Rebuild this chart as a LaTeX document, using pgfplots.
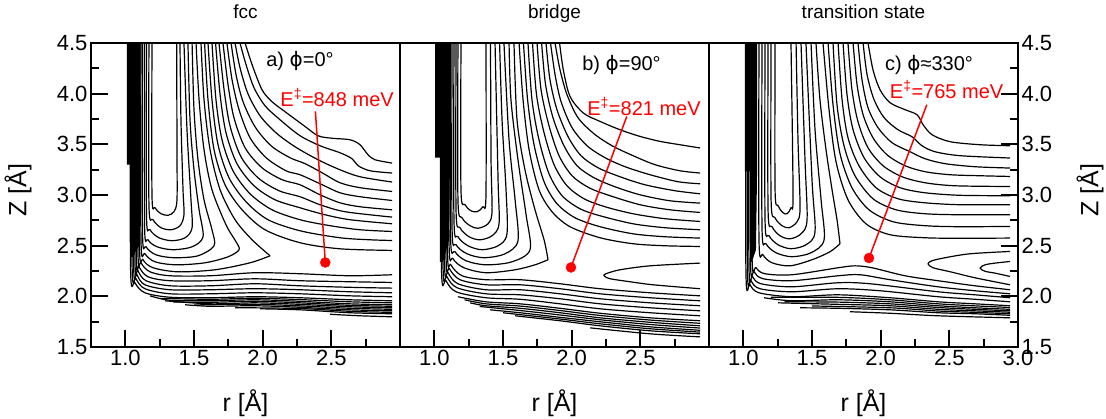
\documentclass[border=0pt]{standalone}
\usepackage{fontspec}
\setmainfont{Liberation Sans}
\newfontfamily\dejavu{DejaVu Sans}
\usepackage{pgfplots}
\pgfplotsset{compat=1.18}
\tikzset{ann/.style={font=\fontsize{20}{22}\selectfont}}
\pgfplotsset{
  panel/.style={
    scale only axis, width=309pt, height=304pt,
    xmin=0.75, xmax=3.0, ymin=1.5, ymax=4.5,
    axis line style={line width=2.4pt},
    tick style={black, line width=1.8pt},
    major tick length=17pt, minor tick length=8pt,
    tick align=inside,
    xtick pos=left,
    xtick={1.0,1.5,2.0,2.5}, xticklabels={1.0,1.5,2.0,2.5},
    minor xtick={1.25,1.75,2.25,2.75},
    ytick={1.5,2.0,2.5,3.0,3.5,4.0,4.5}, yticklabels={1.5,2.0,2.5,3.0,3.5,4.0,4.5},
    minor ytick={1.75,2.25,2.75,3.25,3.75,4.25},
    tick label style={font=\fontsize{22}{24}\selectfont},
    label style={font=\fontsize{25}{27}\selectfont},
    title style={font=\fontsize{19}{21}\selectfont, at={(axis description cs:0.5,1.06)}, anchor=base, yshift=0pt},
    xlabel={r [Å]},
    xlabel style={at={(axis description cs:0.5,-0.185)}, anchor=center},
    axis on top,
    clip mode=individual,
  },
  cl/.style={black, line width=1.2pt, smooth, mark=none},
  wall/.style={fill=black, draw=none, mark=none},
}
\begin{document}
\begin{tikzpicture}
\path[use as bounding box] (0,0) rectangle (1106pt,418pt);
% ---------------- panel a ----------------
\begin{axis}[panel, at={(91pt,71pt)}, anchor=south west, title={fcc},
  ytick pos=left, yticklabel pos=left, ylabel={Z [Å]},
  ylabel style={at={(axis description cs:-0.236,0.516)}, anchor=center}]
\addplot[wall] coordinates {(1.012,4.5) (1.111,4.5) (1.111,3.299) (1.103,2.509) (1.056,2.390) (1.038,2.390) (1.038,3.299) (1.012,3.299)} -- cycle;
\addplot[cl] coordinates {(1.194,4.5) (1.194,3.002) (1.216,2.874) (1.260,2.815) (1.311,2.800) (1.354,2.835) (1.376,2.953) (1.376,3.447) (1.374,4.5)};
\addplot[cl] coordinates {(1.172,4.5) (1.172,2.904) (1.202,2.756) (1.260,2.677) (1.333,2.657) (1.398,2.697) (1.427,2.805) (1.420,3.052) (1.405,3.743) (1.398,4.5)};
\addplot[cl] coordinates {(1.154,4.5) (1.154,2.805) (1.180,2.657) (1.245,2.578) (1.340,2.549) (1.435,2.578) (1.486,2.677) (1.478,2.953) (1.449,3.644) (1.427,4.5)};
\addplot[cl] coordinates {(1.140,4.5) (1.140,2.706) (1.165,2.558) (1.231,2.489) (1.347,2.460) (1.486,2.489) (1.566,2.588) (1.537,2.855) (1.500,3.249) (1.471,3.743) (1.456,4.5)};
\addplot[cl] coordinates {(1.125,4.5) (1.125,2.637) (1.151,2.489) (1.223,2.410) (1.354,2.381) (1.529,2.400) (1.646,2.499) (1.631,2.657) (1.573,2.953) (1.529,3.348) (1.500,3.842) (1.486,4.5)};
\addplot[cl] coordinates {(1.114,4.5) (1.114,2.558) (1.143,2.420) (1.216,2.341) (1.369,2.311) (1.580,2.331) (1.748,2.390) (1.828,2.460) (1.806,2.539) (1.733,2.706) (1.631,3.052) (1.573,3.447) (1.537,3.940) (1.515,4.5)};
\addplot[cl] coordinates {(1.103,4.5) (1.103,2.509) (1.129,2.361) (1.202,2.282) (1.384,2.242) (1.653,2.262) (1.908,2.331) (2.054,2.400)};
\addplot[cl] coordinates {(2.054,2.400) (1.923,2.558) (1.799,2.756) (1.690,3.052) (1.617,3.447) (1.573,3.940) (1.551,4.5)};
\addplot[cl] coordinates {(1.577,4.5) (1.602,3.940) (1.646,3.447) (1.726,3.101) (1.850,2.854) (2.017,2.657) (2.272,2.529) (2.563,2.469) (2.942,2.453)};
\addplot[cl] coordinates {(1.602,4.5) (1.631,3.940) (1.675,3.496) (1.755,3.170) (1.879,2.933) (2.039,2.756) (2.272,2.647) (2.563,2.578) (2.782,2.558) (2.942,2.551)};
\addplot[cl] coordinates {(1.631,4.5) (1.660,3.940) (1.704,3.545) (1.784,3.239) (1.908,3.012) (2.068,2.854) (2.272,2.756) (2.491,2.697) (2.709,2.657) (2.942,2.640)};
\addplot[cl] coordinates {(1.657,4.5) (1.690,3.990) (1.733,3.615) (1.813,3.309) (1.937,3.091) (2.090,2.953) (2.272,2.874) (2.454,2.805) (2.636,2.756) (2.942,2.716)};
\addplot[cl] coordinates {(1.682,4.5) (1.719,4.039) (1.762,3.684) (1.842,3.378) (1.966,3.170) (2.119,3.042) (2.272,2.983) (2.418,2.904) (2.600,2.835) (2.942,2.782)};
\addplot[cl] coordinates {(1.711,4.5) (1.748,4.088) (1.791,3.763) (1.872,3.466) (1.995,3.269) (2.141,3.151) (2.272,3.101) (2.418,3.002) (2.563,2.923) (2.709,2.884) (2.942,2.854)};
\addplot[cl] coordinates {(1.740,4.5) (1.777,4.138) (1.828,3.842) (1.908,3.565) (2.025,3.368) (2.170,3.239) (2.272,3.200) (2.418,3.111) (2.563,3.022) (2.709,2.983) (2.942,2.946)};
\addplot[cl] coordinates {(1.770,4.5) (1.806,4.187) (1.857,3.921) (1.944,3.674) (2.061,3.486) (2.199,3.368) (2.309,3.309) (2.432,3.220) (2.563,3.121) (2.709,3.072) (2.942,3.035)};
\addplot[cl] coordinates {(1.799,4.5) (1.835,4.256) (1.893,3.999) (1.981,3.782) (2.097,3.614) (2.236,3.476) (2.403,3.348) (2.563,3.249) (2.709,3.180) (2.942,3.128)};
\addplot[cl] coordinates {(1.835,4.5) (1.879,4.286) (1.937,4.059) (2.017,3.881) (2.126,3.743) (2.272,3.585) (2.418,3.486) (2.563,3.417) (2.651,3.358) (2.695,3.289) (2.782,3.239) (2.942,3.217)};
\addplot[cl] coordinates {(1.872,4.5) (1.923,4.286) (1.995,4.039) (2.068,3.921) (2.163,3.822) (2.301,3.684) (2.403,3.585) (2.505,3.560) (2.636,3.545) (2.709,3.496) (2.767,3.397) (2.818,3.348) (2.942,3.315)};
\addplot[cl] coordinates {(1.092,4.5) (1.092,2.460) (1.114,2.331) (1.180,2.242) (1.325,2.203) (1.617,2.203) (1.944,2.233) (2.272,2.223) (2.636,2.203) (2.942,2.213)};
\addplot[cl] coordinates {(1.081,4.5) (1.081,2.410) (1.100,2.292) (1.165,2.193) (1.325,2.154) (1.617,2.154) (1.944,2.173) (2.272,2.154) (2.636,2.144) (2.942,2.137)};
\addplot[cl] coordinates {(1.070,4.5) (1.070,2.381) (1.092,2.253) (1.151,2.154) (1.325,2.104) (1.617,2.104) (1.944,2.124) (2.272,2.104) (2.636,2.089) (2.942,2.081)};
\addplot[cl] coordinates {(1.060,4.5) (1.060,2.341) (1.085,2.213) (1.143,2.114) (1.325,2.065) (1.617,2.065) (1.944,2.075) (2.272,2.065) (2.636,2.045) (2.942,2.035)};
\addplot[cl] coordinates {(1.049,4.5) (1.049,2.311) (1.078,2.173) (1.143,2.075) (1.325,2.025) (1.617,2.025) (1.944,2.035) (2.272,2.025) (2.636,2.005) (2.942,1.996)};
\addplot[cl] coordinates {(1.038,4.5) (1.038,2.282) (1.070,2.134) (1.143,2.035) (1.325,1.991) (1.617,1.986) (1.944,1.996) (2.272,1.986) (2.636,1.966) (2.942,1.956)};
\addplot[cl] coordinates {(1.250,1.980) (1.617,1.971) (1.944,1.981) (2.272,1.968) (2.636,1.946) (2.942,1.936)};
\addplot[cl] coordinates {(1.180,2.005) (1.325,1.961) (1.617,1.956) (1.944,1.966) (2.272,1.951) (2.636,1.926) (2.942,1.917)};
\addplot[cl] coordinates {(1.350,1.945) (1.617,1.941) (1.944,1.951) (2.272,1.936) (2.636,1.911) (2.942,1.902)};
\addplot[cl] coordinates {(1.289,1.956) (1.617,1.926) (1.944,1.936) (2.272,1.921) (2.636,1.897) (2.942,1.887)};
\addplot[cl] coordinates {(1.500,1.915) (1.944,1.921) (2.272,1.906) (2.636,1.882) (2.942,1.872)};
\addplot[cl] coordinates {(1.435,1.917) (1.617,1.902) (1.944,1.907) (2.272,1.892) (2.636,1.867) (2.942,1.857)};
\addplot[cl] coordinates {(1.800,1.888) (2.272,1.880) (2.636,1.852) (2.942,1.842)};
\addplot[cl] coordinates {(1.981,1.877) (2.272,1.867) (2.636,1.838) (2.942,1.828)};
\addplot[cl] coordinates {(2.491,1.823) (2.709,1.808) (2.942,1.798)};
\addplot[red, line width=1.5pt, mark=none] coordinates {(2.384,3.825) (2.456,2.334)};
\addplot[red, only marks, mark=*, mark size=5pt] coordinates {(2.456,2.334)};
\node[ann] at (axis cs:2.272,4.325) {a) {\dejavu ϕ}=0°};
\node[ann, text=red] at (axis cs:2.542,3.960) {E\textsuperscript{‡}=848 meV};
\end{axis}
% ---------------- panel b ----------------
\begin{axis}[panel, at={(400pt,71pt)}, anchor=south west, title={bridge},
  ytick=\empty, minor ytick=\empty]
\addplot[wall] coordinates {(1.005,4.5) (1.114,4.5) (1.114,3.368) (1.107,2.558) (1.063,2.341) (1.041,2.341) (1.041,3.368) (1.005,3.368)} -- cycle;
\addplot[cl] coordinates {(1.194,4.5) (1.194,3.052) (1.223,2.904) (1.267,2.844) (1.311,2.835) (1.354,2.884) (1.376,3.002) (1.376,4.5)};
\addplot[cl] coordinates {(1.172,4.5) (1.172,2.953) (1.202,2.775) (1.260,2.697) (1.318,2.672) (1.391,2.716) (1.420,2.835) (1.413,3.348) (1.409,4.5)};
\addplot[cl] coordinates {(1.158,4.5) (1.158,2.854) (1.187,2.677) (1.253,2.588) (1.333,2.558) (1.420,2.598) (1.471,2.716) (1.464,3.151) (1.442,4.5)};
\addplot[cl] coordinates {(1.143,4.5) (1.143,2.756) (1.172,2.588) (1.245,2.499) (1.347,2.460) (1.464,2.499) (1.529,2.617) (1.522,3.052) (1.493,3.743) (1.475,4.5)};
\addplot[cl] coordinates {(1.129,4.5) (1.129,2.677) (1.158,2.509) (1.238,2.420) (1.362,2.381) (1.515,2.420) (1.609,2.549) (1.588,2.953) (1.544,3.545) (1.507,4.5)};
\addplot[cl] coordinates {(1.118,4.5) (1.118,2.598) (1.151,2.440) (1.231,2.351) (1.376,2.311) (1.566,2.341) (1.697,2.460) (1.668,2.805) (1.609,3.348) (1.558,3.940) (1.544,4.5)};
\addplot[cl] coordinates {(1.107,4.5) (1.107,2.529) (1.136,2.371) (1.216,2.282) (1.376,2.233) (1.588,2.262) (1.733,2.311) (1.828,2.361)};
\addplot[cl] coordinates {(1.828,2.361) (1.799,2.558) (1.733,2.854) (1.660,3.249) (1.602,3.743) (1.580,4.5)};
\addplot[cl] coordinates {(1.617,4.5) (1.646,3.940) (1.690,3.447) (1.762,3.052) (1.857,2.835) (1.988,2.687) (2.207,2.578) (2.447,2.519) (2.680,2.499) (2.935,2.492)};
\addplot[cl] coordinates {(1.649,4.5) (1.679,3.940) (1.726,3.496) (1.799,3.131) (1.893,2.914) (2.025,2.775) (2.207,2.687) (2.447,2.617) (2.680,2.588) (2.935,2.575)};
\addplot[cl] coordinates {(1.682,4.5) (1.711,3.940) (1.762,3.545) (1.835,3.210) (1.930,2.993) (2.061,2.864) (2.207,2.795) (2.447,2.716) (2.680,2.677) (2.935,2.657)};
\addplot[cl] coordinates {(1.715,4.5) (1.744,3.990) (1.799,3.614) (1.872,3.299) (1.966,3.091) (2.090,2.963) (2.243,2.884) (2.447,2.815) (2.680,2.766) (2.935,2.739)};
\addplot[cl] coordinates {(1.748,4.5) (1.777,4.039) (1.835,3.684) (1.908,3.388) (2.003,3.190) (2.126,3.072) (2.279,2.993) (2.498,2.904) (2.716,2.854) (2.935,2.828)};
\addplot[cl] coordinates {(1.781,4.5) (1.810,4.088) (1.864,3.763) (1.944,3.486) (2.039,3.289) (2.163,3.170) (2.316,3.081) (2.498,3.002) (2.716,2.943) (2.935,2.920)};
\addplot[cl] coordinates {(1.813,4.5) (1.842,4.138) (1.893,3.842) (1.974,3.575) (2.068,3.388) (2.192,3.269) (2.352,3.180) (2.534,3.101) (2.753,3.042) (2.935,3.012)};
\addplot[cl] coordinates {(1.846,4.5) (1.879,4.187) (1.923,3.920) (2.003,3.664) (2.112,3.486) (2.243,3.368) (2.389,3.279) (2.571,3.200) (2.775,3.131) (2.935,3.111)};
\addplot[cl] coordinates {(1.879,4.5) (1.915,4.236) (1.966,3.990) (2.046,3.763) (2.163,3.604) (2.294,3.486) (2.447,3.388) (2.607,3.299) (2.789,3.239) (2.935,3.217)};
\addplot[cl] coordinates {(1.912,4.5) (1.939,4.236) (1.988,3.973) (2.085,3.809) (2.207,3.726) (2.352,3.644) (2.498,3.578) (2.644,3.529) (2.789,3.496) (2.935,3.464)};
\addplot[cl] coordinates {(2.935,2.328) (2.571,2.301) (2.352,2.262) (2.250,2.223) (2.236,2.203) (2.279,2.174) (2.425,2.144) (2.593,2.114) (2.935,2.075)};
\addplot[cl] coordinates {(1.096,4.5) (1.096,2.460) (1.121,2.311) (1.202,2.203) (1.376,2.164) (1.624,2.164) (1.915,2.124) (2.207,2.075) (2.571,2.035) (2.935,2.005)};
\addplot[cl] coordinates {(1.085,4.5) (1.085,2.410) (1.111,2.272) (1.187,2.164) (1.376,2.114) (1.624,2.114) (1.915,2.075) (2.207,2.025) (2.571,1.986) (2.935,1.956)};
\addplot[cl] coordinates {(1.074,4.5) (1.074,2.361) (1.100,2.233) (1.172,2.124) (1.376,2.065) (1.624,2.065) (1.915,2.025) (2.207,1.976) (2.571,1.936) (2.935,1.907)};
\addplot[cl] coordinates {(1.063,4.5) (1.063,2.321) (1.092,2.193) (1.165,2.085) (1.376,2.025) (1.624,2.015) (1.915,1.976) (2.207,1.926) (2.571,1.887) (2.935,1.857)};
\addplot[cl] coordinates {(1.052,4.5) (1.052,2.282) (1.085,2.154) (1.158,2.045) (1.376,1.986) (1.624,1.971) (1.915,1.926) (2.207,1.877) (2.571,1.838) (2.935,1.808)};
\addplot[cl] coordinates {(1.172,1.996) (1.376,1.946) (1.624,1.926) (1.915,1.882) (2.207,1.833) (2.571,1.788) (2.935,1.759)};
\addplot[cl] coordinates {(1.220,1.966) (1.376,1.926) (1.624,1.904) (1.915,1.860) (2.207,1.811) (2.571,1.766) (2.935,1.734)};
\addplot[cl] coordinates {(1.260,1.936) (1.376,1.907) (1.624,1.882) (1.915,1.838) (2.207,1.788) (2.571,1.744) (2.935,1.709)};
\addplot[cl] coordinates {(1.330,1.900) (1.624,1.860) (1.915,1.816) (2.207,1.769) (2.571,1.722) (2.935,1.687)};
\addplot[cl] coordinates {(1.405,1.867) (1.624,1.838) (1.915,1.793) (2.207,1.749) (2.571,1.699) (2.935,1.665)};
\addplot[cl] coordinates {(1.500,1.838) (1.915,1.776) (2.207,1.729) (2.571,1.680) (2.935,1.647)};
\addplot[cl] coordinates {(1.588,1.808) (1.915,1.759) (2.207,1.709) (2.571,1.660) (2.935,1.630)};
\addplot[cl] coordinates {(2.134,1.689) (2.571,1.630) (2.935,1.600)};
\addplot[red, line width=1.5pt, mark=none] coordinates {(2.401,3.775) (1.995,2.285)};
\addplot[red, only marks, mark=*, mark size=5pt] coordinates {(1.995,2.285)};
\node[ann] at (axis cs:2.363,4.281) {b) {\dejavu ϕ}=90°};
\node[ann, text=red] at (axis cs:2.527,3.871) {E\textsuperscript{‡}=821 meV};
\end{axis}
% ---------------- panel c ----------------
\begin{axis}[panel, at={(709pt,71pt)}, anchor=south west, title={transition state},
  xtick={1.0,1.5,2.0,2.5,3.0}, xticklabels={1.0,1.5,2.0,2.5,3.0},
  ytick pos=right, yticklabel pos=right, ylabel={Z [Å]},
  ylabel style={at={(axis description cs:1.233,0.516)}, anchor=center}]
\addplot[wall] coordinates {(1.012,4.5) (1.100,4.5) (1.100,3.232) (1.092,2.460) (1.063,2.341) (1.049,2.341) (1.049,3.232) (1.012,3.232)} -- cycle;
\addplot[cl] coordinates {(1.231,4.5) (1.231,3.052) (1.253,2.894) (1.289,2.825) (1.318,2.815) (1.347,2.874) (1.362,3.002) (1.347,4.5)};
\addplot[cl] coordinates {(1.202,4.5) (1.202,2.953) (1.231,2.775) (1.282,2.697) (1.333,2.677) (1.391,2.736) (1.413,2.874) (1.398,3.545) (1.384,4.5)};
\addplot[cl] coordinates {(1.180,4.5) (1.180,2.854) (1.209,2.687) (1.267,2.598) (1.340,2.568) (1.420,2.617) (1.464,2.756) (1.449,3.348) (1.420,4.5)};
\addplot[cl] coordinates {(1.158,4.5) (1.158,2.756) (1.187,2.598) (1.253,2.509) (1.347,2.470) (1.456,2.509) (1.522,2.637) (1.500,3.151) (1.456,4.5)};
\addplot[cl] coordinates {(1.136,4.5) (1.136,2.677) (1.165,2.519) (1.238,2.430) (1.354,2.391) (1.493,2.430) (1.588,2.558) (1.566,2.953) (1.522,3.644) (1.493,4.5)};
\addplot[cl] coordinates {(1.114,4.5) (1.114,2.558) (1.143,2.410) (1.209,2.331) (1.340,2.301) (1.500,2.361) (1.631,2.440) (1.704,2.519)};
\addplot[cl] coordinates {(1.704,2.519) (1.682,2.756) (1.646,3.052) (1.602,3.447) (1.558,3.940) (1.529,4.5)};
\addplot[cl] coordinates {(1.580,4.5) (1.624,3.842) (1.675,3.328) (1.762,2.953) (1.893,2.716) (2.068,2.608) (2.323,2.578) (2.578,2.573) (2.942,2.575)};
\addplot[cl] coordinates {(1.617,4.5) (1.653,3.891) (1.704,3.407) (1.791,3.072) (1.915,2.854) (2.090,2.736) (2.323,2.697) (2.578,2.687) (2.942,2.690)};
\addplot[cl] coordinates {(1.653,4.5) (1.682,3.891) (1.733,3.486) (1.813,3.190) (1.944,2.963) (2.112,2.854) (2.323,2.815) (2.578,2.805) (2.942,2.805)};
\addplot[cl] coordinates {(1.690,4.5) (1.719,3.940) (1.762,3.565) (1.842,3.289) (1.966,3.072) (2.126,2.963) (2.323,2.923) (2.578,2.904) (2.942,2.904)};
\addplot[cl] coordinates {(1.726,4.5) (1.755,3.990) (1.799,3.644) (1.879,3.368) (1.995,3.180) (2.141,3.072) (2.323,3.022) (2.578,2.997) (2.942,2.993)};
\addplot[cl] coordinates {(1.762,4.5) (1.791,4.039) (1.835,3.723) (1.908,3.466) (2.017,3.289) (2.156,3.180) (2.323,3.121) (2.542,3.091) (2.942,3.084)};
\addplot[cl] coordinates {(1.799,4.5) (1.828,4.088) (1.872,3.792) (1.944,3.565) (2.046,3.397) (2.177,3.289) (2.323,3.230) (2.505,3.200) (2.724,3.190) (2.942,3.183)};
\addplot[cl] coordinates {(1.835,4.5) (1.864,4.138) (1.908,3.861) (1.981,3.664) (2.083,3.516) (2.214,3.427) (2.323,3.358) (2.469,3.309) (2.687,3.279) (2.942,3.266)};
\addplot[cl] coordinates {(1.872,4.5) (1.901,4.187) (1.952,3.940) (2.025,3.763) (2.126,3.644) (2.228,3.575) (2.301,3.486) (2.396,3.427) (2.578,3.388) (2.942,3.365)};
\addplot[cl] coordinates {(1.908,4.5) (1.944,4.236) (1.995,4.039) (2.068,3.911) (2.177,3.842) (2.265,3.792) (2.309,3.693) (2.374,3.595) (2.505,3.526) (2.724,3.496) (2.942,3.486)};
\addplot[cl] coordinates {(2.942,2.443) (2.651,2.420) (2.469,2.381) (2.374,2.351) (2.345,2.321) (2.381,2.282) (2.505,2.243) (2.687,2.183) (2.942,2.114)};
\addplot[cl] coordinates {(2.942,2.344) (2.833,2.328) (2.760,2.311) (2.724,2.279) (2.760,2.247) (2.833,2.229) (2.942,2.196)};
\addplot[cl] coordinates {(1.063,4.5) (1.063,2.410) (1.092,2.282) (1.158,2.223) (1.354,2.213) (1.690,2.282) (1.813,2.301) (1.937,2.282) (2.177,2.203) (2.418,2.154) (2.687,2.104) (2.942,2.065)};
\addplot[cl] coordinates {(1.052,4.5) (1.052,2.361) (1.078,2.243) (1.143,2.174) (1.354,2.154) (1.690,2.203) (1.850,2.213) (2.068,2.164) (2.418,2.094) (2.687,2.055) (2.942,2.025)};
\addplot[cl] coordinates {(1.041,4.5) (1.041,2.311) (1.067,2.193) (1.129,2.124) (1.354,2.094) (1.690,2.134) (1.923,2.124) (2.418,2.045) (2.687,2.015) (2.942,1.986)};
\addplot[cl] coordinates {(1.030,4.5) (1.030,2.272) (1.056,2.154) (1.121,2.075) (1.354,2.045) (1.690,2.075) (1.995,2.055) (2.418,1.996) (2.687,1.971) (2.942,1.946)};
\addplot[cl] coordinates {(1.019,4.5) (1.019,2.233) (1.049,2.114) (1.114,2.035) (1.354,1.996) (1.690,2.015) (2.068,1.986) (2.418,1.946) (2.687,1.926) (2.942,1.907)};
\addplot[cl] coordinates {(1.200,1.990) (1.690,1.990) (2.068,1.966) (2.418,1.926) (2.687,1.906) (2.942,1.890)};
\addplot[cl] coordinates {(1.151,1.986) (1.354,1.956) (1.690,1.966) (2.068,1.946) (2.418,1.907) (2.687,1.887) (2.942,1.872)};
\addplot[cl] coordinates {(1.300,1.946) (1.690,1.943) (2.068,1.926) (2.418,1.890) (2.687,1.872) (2.942,1.857)};
\addplot[cl] coordinates {(1.253,1.936) (1.690,1.921) (2.068,1.907) (2.418,1.872) (2.687,1.857) (2.942,1.843)};
\addplot[cl] coordinates {(1.500,1.905) (2.068,1.887) (2.418,1.855) (2.687,1.842) (2.942,1.828)};
\addplot[cl] coordinates {(1.413,1.887) (1.690,1.882) (2.068,1.867) (2.418,1.838) (2.687,1.828) (2.942,1.813)};
\addplot[cl] coordinates {(1.777,1.848) (2.068,1.833) (2.418,1.808) (2.942,1.788)};
\addplot[red, line width=1.5pt, mark=none] coordinates {(2.336,3.891) (1.915,2.378)};
\addplot[red, only marks, mark=*, mark size=5pt] coordinates {(1.915,2.378)};
\node[ann] at (axis cs:2.352,4.286) {c) {\dejavu ϕ}≈330°};
\node[ann, text=red] at (axis cs:2.480,4.039) {E\textsuperscript{‡}=765 meV};
\end{axis}
\end{tikzpicture}
\end{document}
